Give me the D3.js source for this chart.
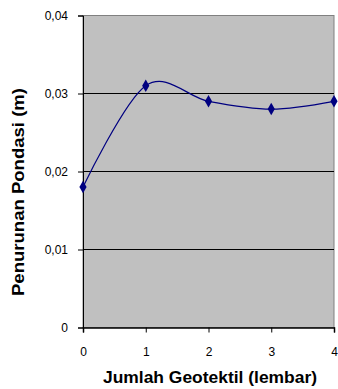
<!DOCTYPE html>
<html>
<head>
<meta charset="utf-8">
<script src="https://cdn.jsdelivr.net/npm/d3@7"></script>
<style>
  body { margin: 0; background: #fff; }
  text { font-family: "Liberation Sans", Arial, sans-serif; }
</style>
</head>
<body>
<svg id="chart" width="338" height="389"></svg>
<script>
const jumlah = [0, 1, 2, 3, 4];
const penurunan = [0.018, 0.031, 0.029, 0.028, 0.029];
const yTicks = [0, 0.01, 0.02, 0.03, 0.04];

const plotLeft = 83, plotRight = 334, plotTop = 15.5, plotBottom = 327.5;

const svg = d3.select('#chart');
const x = d3.scaleLinear().domain([0, 4]).range([plotLeft, plotRight]);
const y = d3.scaleLinear().domain([0, 0.04]).range([plotBottom, plotTop]);

svg.append('rect').attr('x', plotLeft).attr('y', plotTop).attr('width', plotRight - plotLeft).attr('height', plotBottom - plotTop)
  .attr('fill', '#c0c0c0').attr('stroke', '#808080').attr('stroke-width', 1);

// gridlines
svg.append('g').selectAll('line').data(yTicks.filter(d => d > 0 && d < 0.04)).enter().append('line')
  .attr('x1', plotLeft).attr('x2', plotRight).attr('y1', d => y(d)).attr('y2', d => y(d))
  .attr('stroke', '#000').attr('stroke-width', 1);

const fmt = d => d === 0 ? '0' : d3.format('.2f')(d).replace('.', ',');

const yAxis = d3.axisLeft(y).tickValues(yTicks).tickFormat(fmt).tickSize(5).tickPadding(10);
const yg = svg.append('g').attr('transform', `translate(${plotLeft},0)`).call(yAxis);
yg.select('.domain').attr('stroke', '#000');
yg.selectAll('text').attr('font-size', 12).attr('fill', '#000');

const xAxis = d3.axisBottom(x).tickValues(jumlah).tickFormat(d3.format('d')).tickSize(5).tickPadding(15);
const xg = svg.append('g').attr('transform', `translate(0,${plotBottom})`).call(xAxis);
xg.select('.domain').attr('stroke', '#000').attr('stroke-width', 1.5);
xg.selectAll('text').attr('font-size', 12).attr('fill', '#000');

const line = d3.line().curve(d3.curveCardinal.tension(0)).x((d, i) => x(jumlah[i])).y(d => y(d));
svg.append('path').datum(penurunan).attr('d', line).attr('fill', 'none')
  .attr('stroke', '#000080').attr('stroke-width', 1.2);

svg.append('g').selectAll('path').data(penurunan).enter().append('path')
  .attr('d', d3.symbol().type(d3.symbolDiamond).size(45))
  .attr('transform', (d, i) => `translate(${x(jumlah[i])},${y(d)})`)
  .attr('fill', '#000080');

svg.append('text').attr('x', 210).attr('y', 383).attr('text-anchor', 'middle')
  .attr('font-size', 16).attr('font-weight', 'bold')
  .attr('textLength', 214).attr('lengthAdjust', 'spacingAndGlyphs')
  .text('Jumlah Geotektil (lembar)');

svg.append('text').attr('transform', 'translate(24,192) rotate(-90)').attr('text-anchor', 'middle')
  .attr('font-size', 16).attr('font-weight', 'bold')
  .attr('textLength', 208).attr('lengthAdjust', 'spacingAndGlyphs')
  .text('Penurunan Pondasi (m)');
</script>
</body>
</html>
